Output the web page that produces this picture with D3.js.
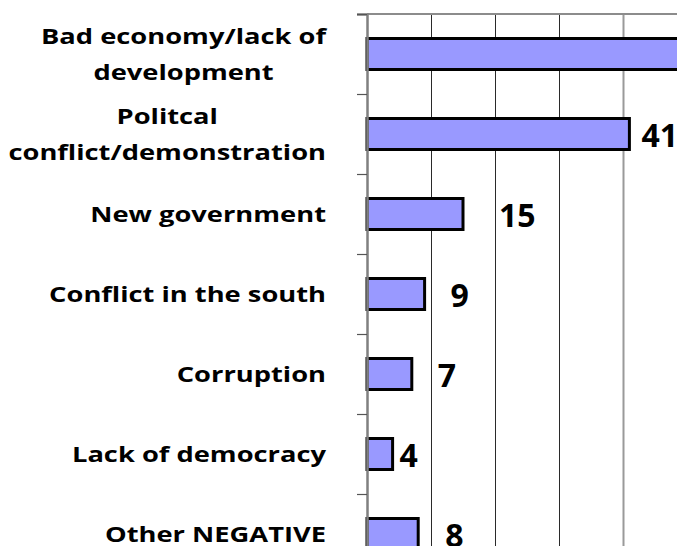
<!DOCTYPE html>
<html>
<head>
<meta charset="utf-8">
<script src="https://cdn.jsdelivr.net/npm/d3@7/dist/d3.min.js"></script>
<style>
  html, body { margin: 0; padding: 0; background: #fff; overflow: hidden; }
  svg { display: block; }
</style>
</head>
<body>
<svg id="chart" width="677" height="546"></svg>
<script>
// Reasons given (percent of respondents)
const categoryLines = [
  ["Bad economy/lack of", "development"],
  ["Politcal", "conflict/demonstration"],
  ["New government"],
  ["Conflict in the south"],
  ["Corruption"],
  ["Lack of democracy"],
  ["Other NEGATIVE"]
];
const categories = categoryLines.map(l => l.join(" "));
const values = [52, 41, 15, 9, 7, 4, 8];
const gridValues = [10, 20, 30, 40, 50];

// Layout: horizontal gap between bar end and its value label
const labelGap = [14, 14, 38, 28, 28, 9, 29];

const W = 677, H = 546;
const plotLeft = 367, plotTop = 14, band = 80;
const plotBottom = plotTop + band * categories.length;

const svg = d3.select("#chart");
svg.append("rect").attr("width", W).attr("height", H).attr("fill", "#fff");

const x = d3.scaleLinear().domain([0, 60]).range([plotLeft, plotLeft + 384]);
const y = d3.scaleBand().domain(categories).range([plotTop, plotBottom]).padding(0);
const yEdge = d3.scaleLinear().domain([0, categories.length]).range([plotTop, plotBottom]);

// Vertical gridlines
const grid = svg.append("g")
  .attr("transform", `translate(0,${plotTop})`)
  .call(d3.axisTop(x).tickValues(gridValues).tickSize(-(plotBottom - plotTop)).tickFormat(""));
grid.select(".domain").remove();
grid.selectAll(".tick line")
  .attr("stroke", d => d === 40 ? "#9a9a9a" : "#2a2a2a")
  .attr("stroke-width", d => d === 40 ? 2 : 1);

// Top border of the plot area
svg.append("line")
  .attr("x1", plotLeft).attr("x2", W + 10)
  .attr("y1", plotTop).attr("y2", plotTop)
  .attr("stroke", "#8c8c8c").attr("stroke-width", 2);

// Bars
const barH = 31;
svg.append("g").selectAll("rect")
  .data(values)
  .join("rect")
  .attr("x", x(0))
  .attr("y", (d, i) => y(categories[i]) + y.bandwidth() / 2 - barH / 2)
  .attr("width", d => x(d) - x(0))
  .attr("height", barH)
  .attr("fill", "#9999ff")
  .attr("stroke", "#000")
  .attr("stroke-width", 3);

// Category axis with ticks at band edges
const yAxis = svg.append("g")
  .attr("transform", `translate(${plotLeft},0)`)
  .call(d3.axisLeft(yEdge).tickValues(d3.range(categories.length + 1)).tickSize(10).tickFormat(""));
yAxis.select(".domain").attr("stroke", "#808080").attr("stroke-width", 2.5);
yAxis.selectAll(".tick line").attr("stroke", "#555").attr("stroke-width", 1.2);

// Value labels
svg.append("g").selectAll("text")
  .data(values)
  .join("text")
  .attr("x", (d, i) => x(d) + labelGap[i] - 2)
  .attr("y", (d, i) => y(categories[i]) + y.bandwidth() / 2 + 12.5)
  .attr("font-family", "'Open Sans', sans-serif")
  .attr("font-weight", 700)
  .attr("font-size", 32)
  .attr("fill", "#000")
  .text(d => d);

// Category labels: centred lines, block right-aligned to the axis gap
const labelRight = 326, stretch = 1.3;
const lineOffsets = { 1: [8], 2: [-10, 26] };
categoryLines.forEach((lines, i) => {
  const cy = y(categories[i]) + y.bandwidth() / 2;
  const g = svg.append("g")
    .attr("transform", `translate(${labelRight},${cy}) scale(${stretch},1)`);
  const texts = g.selectAll("text")
    .data(lines)
    .join("text")
    .attr("y", (d, j) => lineOffsets[lines.length][j])
    .attr("font-family", "'Open Sans', sans-serif")
    .attr("font-weight", 700)
    .attr("font-size", 21)
    .attr("fill", "#000")
    .attr("text-anchor", "middle")
    .text(d => d);
  let maxW = 0;
  texts.each(function () { maxW = Math.max(maxW, this.getComputedTextLength()); });
  texts.attr("x", -maxW / 2);
});
</script>
</body>
</html>
